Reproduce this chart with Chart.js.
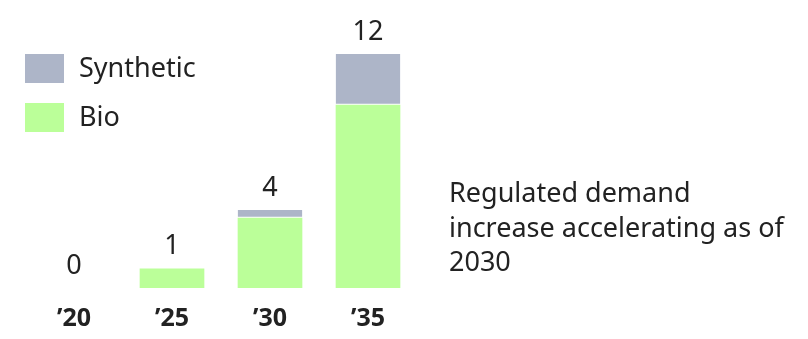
<!DOCTYPE html>
<html>
<head>
<meta charset="utf-8">
<script src="https://cdn.jsdelivr.net/npm/chart.js@4"></script>
<style>
  html, body { margin: 0; padding: 0; background: #fff; overflow: hidden; }
  #wrap { position: relative; width: 808px; height: 339px; overflow: hidden; }
  #note { position: absolute; left: 449px; top: 175px; font: 27px "Noto Sans", sans-serif; line-height: 34.5px; color: #222; width: 359px; white-space: nowrap; }
</style>
</head>
<body>
<div id="wrap">
  <canvas id="barChart" width="808" height="358"></canvas>
  <div id="note">Regulated demand<br>increase accelerating as of<br>2030</div>
</div>
<script>
// data
var years = ["\u201920", "\u201925", "\u201930", "\u201935"];
var bio = [0, 1, 3.6, 9.4];
var synthetic = [0, 0, 0.4, 2.6];
var totals = [0, 1, 4, 12];

var font = '"Noto Sans", sans-serif';

// totals above the stacks + legend on the left
var extras = {
  id: 'extras',
  afterDatasetsDraw: function(chart) {
    var ctx = chart.ctx;
    var x = chart.scales.x, y = chart.scales.y;
    ctx.save();
    ctx.fillStyle = '#222';
    ctx.font = '27px ' + font;
    ctx.textAlign = 'center';
    ctx.textBaseline = 'middle';
    totals.forEach(function(t, i) {
      ctx.fillText(String(t), x.getPixelForValue(i), y.getPixelForValue(t) - 22);
    });

    // legend, Synthetic first
    var ds = chart.data.datasets;
    [1, 0].forEach(function(k, row) {
      var top = 54 + row * 49;
      ctx.fillStyle = ds[k].backgroundColor;
      ctx.fillRect(25, top, 39, 29);
      ctx.fillStyle = '#222';
      ctx.textAlign = 'left';
      ctx.fillText(ds[k].label, 79, top + 15);
    });
    ctx.restore();
  }
};

var ctx = document.getElementById('barChart').getContext('2d');
var chart = new Chart(ctx, {
  type: 'bar',
  data: {
    labels: years,
    datasets: [
      { label: 'Bio', data: bio, backgroundColor: '#BBFF99', borderWidth: 0 },
      { label: 'Synthetic', data: synthetic, backgroundColor: '#ADB5C8',
        borderColor: '#ffffff', borderWidth: { bottom: 1, top: 0, left: 0, right: 0 }, borderSkipped: false }
    ]
  },
  options: {
    responsive: false,
    animation: false,
    layout: { padding: { left: 25, right: 391, top: 54, bottom: 8 } },
    datasets: { bar: { barPercentage: 0.66, categoryPercentage: 1.0 } },
    plugins: { legend: { display: false }, tooltip: { enabled: false } },
    scales: {
      x: {
        stacked: true,
        grid: { display: false, drawTicks: false },
        border: { display: false },
        ticks: { color: '#222', padding: 16, font: { family: font, size: 25, weight: 'bold' } }
      },
      y: {
        stacked: true,
        display: false,
        min: 0,
        max: 12
      }
    }
  },
  plugins: [extras]
});
</script>
</body>
</html>
